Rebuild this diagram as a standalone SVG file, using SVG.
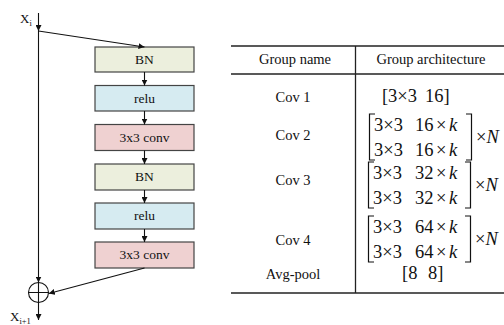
<svg xmlns="http://www.w3.org/2000/svg" width="504" height="325" viewBox="0 0 504 325">
  <defs>
    <marker id="arr" viewBox="0 0 10 10" refX="10" refY="5" markerWidth="6" markerHeight="6" markerUnits="userSpaceOnUse" orient="auto">
      <path d="M0,0 L10,5 L0,10 z" fill="#111"/>
    </marker>
    <style>
      .box { stroke: #444; stroke-width: 1.2; }
      .bn { fill: #ECEFDD; }
      .relu { fill: #D6EBF1; }
      .conv { fill: #EFD1D1; }
      .lbl { font-family: "Liberation Serif", "Times New Roman", serif; font-size: 13.5px; fill: #111; text-anchor: middle; }
      .var { font-family: "Liberation Serif", "Times New Roman", serif; font-size: 13px; fill: #111; }
      .wire { stroke: #111; stroke-width: 1.1; fill: none; }
      .rule { stroke: #222; fill: none; }
      .th { font-family: "Liberation Serif", "Times New Roman", serif; font-size: 14.5px; fill: #111; text-anchor: middle; }
      .m { font-family: "Liberation Serif", "Times New Roman", serif; font-size: 18.5px; fill: #111; }
      .it { font-style: italic; }
      .br { stroke: #111; stroke-width: 1.2; fill: none; }
    </style>
  </defs>

  <!-- residual block: variable labels -->
  <text class="var" x="20" y="23">X<tspan font-size="8.5" dy="3">i</tspan></text>
  <text class="var" x="10" y="321">X<tspan font-size="8.5" dy="3">i+1</tspan></text>

  <!-- layer boxes -->
  <g id="bn1"><rect class="box bn" x="95" y="47" width="99" height="25"/><text class="lbl" x="144.5" y="64">BN</text></g>
  <g id="relu1"><rect class="box relu" x="95" y="85.5" width="99" height="25.5"/><text class="lbl" x="144.5" y="102.5">relu</text></g>
  <g id="conv1"><rect class="box conv" x="95" y="124.5" width="99" height="26"/><text class="lbl" x="144.5" y="141.5">3x3 conv</text></g>
  <g id="bn2"><rect class="box bn" x="95" y="164" width="99" height="26"/><text class="lbl" x="144.5" y="181">BN</text></g>
  <g id="relu2"><rect class="box relu" x="95" y="203" width="99" height="26"/><text class="lbl" x="144.5" y="220">relu</text></g>
  <g id="conv2"><rect class="box conv" x="95" y="242" width="99" height="26"/><text class="lbl" x="144.5" y="259">3x3 conv</text></g>

  <!-- addition node -->
  <g id="add">
    <circle cx="38.5" cy="292.5" r="10" fill="none" stroke="#111" stroke-width="1.1"/>
    <path d="M28.5 292.5 H48.5 M38.5 282.5 V302.5" stroke="#111" stroke-width="1.1"/>
  </g>

  <!-- connectors -->
  <g id="connectors">
    <line class="wire" x1="38.5" y1="13" x2="38.5" y2="31" marker-end="url(#arr)"/>
    <line class="wire" x1="38.5" y1="31" x2="38.5" y2="282.5" marker-end="url(#arr)"/>
    <line class="wire" x1="38.5" y1="31" x2="144.5" y2="47" marker-end="url(#arr)"/>
    <line class="wire" x1="144.5" y1="72" x2="144.5" y2="85.5" marker-end="url(#arr)"/>
    <line class="wire" x1="144.5" y1="111" x2="144.5" y2="124.5" marker-end="url(#arr)"/>
    <line class="wire" x1="144.5" y1="150.5" x2="144.5" y2="164" marker-end="url(#arr)"/>
    <line class="wire" x1="144.5" y1="190" x2="144.5" y2="203" marker-end="url(#arr)"/>
    <line class="wire" x1="144.5" y1="229" x2="144.5" y2="242" marker-end="url(#arr)"/>
    <line class="wire" x1="144.5" y1="268" x2="48.8" y2="293.5" marker-end="url(#arr)"/>
    <line class="wire" x1="38.5" y1="302.5" x2="38.5" y2="320" marker-end="url(#arr)"/>
  </g>

  <!-- table rules -->
  <path class="rule" stroke-width="1.5" d="M231 46 H504"/>
  <path class="rule" stroke-width="1.3" d="M231 74 H504"/>
  <path class="rule" stroke-width="1.5" d="M231 293 H504"/>
  <path class="rule" stroke-width="1.3" d="M355.5 46 V293"/>

  <!-- header -->
  <text class="th" x="295" y="64" font-size="15">Group name</text>
  <text class="th" x="431" y="64" font-size="15">Group architecture</text>

  <!-- group names -->
  <text class="th" x="293" y="102">Cov 1</text>
  <text class="th" x="293" y="140">Cov 2</text>
  <text class="th" x="293" y="185">Cov 3</text>
  <text class="th" x="293" y="245">Cov 4</text>
  <text class="th" x="293" y="279">Avg-pool</text>

  <!-- Cov 1 -->
  <text class="m" x="382" y="102">[</text>
  <text class="m" x="388" y="102">3×3</text>
  <text class="m" x="425" y="102">16]</text>

  <!-- Cov 2 -->
  <path class="br" d="M375 114 H369.5 V160 H375 M466 114 H471.5 V160 H466"/>
  <text class="m" x="374" y="131">3×3</text>
  <text class="m" x="415" y="131">16<tspan dx="2.5">×</tspan><tspan class="it" dx="2.5">k</tspan></text>
  <text class="m" x="374" y="156">3×3</text>
  <text class="m" x="415" y="156">16<tspan dx="2.5">×</tspan><tspan class="it" dx="2.5">k</tspan></text>
  <text class="m" x="476" y="143">×<tspan class="it">N</tspan></text>

  <!-- Cov 3 -->
  <path class="br" d="M374 162 H368.5 V208 H374 M465 162 H470.5 V208 H465"/>
  <text class="m" x="373" y="179">3×3</text>
  <text class="m" x="415" y="179">32<tspan dx="2.5">×</tspan><tspan class="it" dx="2.5">k</tspan></text>
  <text class="m" x="373" y="204">3×3</text>
  <text class="m" x="415" y="204">32<tspan dx="2.5">×</tspan><tspan class="it" dx="2.5">k</tspan></text>
  <text class="m" x="475" y="191">×<tspan class="it">N</tspan></text>

  <!-- Cov 4 -->
  <path class="br" d="M374 216 H368.5 V262 H374 M465 216 H470.5 V262 H465"/>
  <text class="m" x="373" y="233">3×3</text>
  <text class="m" x="415" y="233">64<tspan dx="2.5">×</tspan><tspan class="it" dx="2.5">k</tspan></text>
  <text class="m" x="373" y="258">3×3</text>
  <text class="m" x="415" y="258">64<tspan dx="2.5">×</tspan><tspan class="it" dx="2.5">k</tspan></text>
  <text class="m" x="475" y="245">×<tspan class="it">N</tspan></text>

  <!-- Avg-pool -->
  <text class="m" x="402" y="279">[8</text>
  <text class="m" x="428" y="279">8]</text>
</svg>
